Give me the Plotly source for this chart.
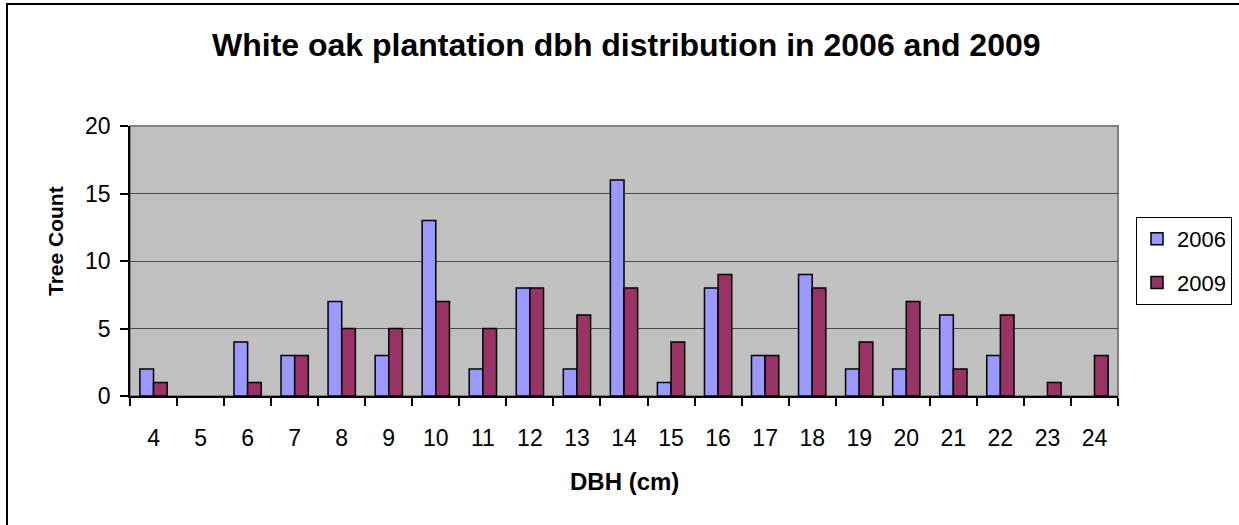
import plotly.graph_objects as go

dbh = ["4", "5", "6", "7", "8", "9", "10", "11", "12", "13", "14", "15", "16",
       "17", "18", "19", "20", "21", "22", "23", "24"]
count_2006 = [2, 0, 4, 3, 7, 3, 13, 2, 8, 2, 16, 1, 8, 3, 9, 2, 2, 6, 3, 0, 0]
count_2009 = [1, 0, 1, 3, 5, 5, 7, 5, 8, 6, 8, 4, 9, 3, 8, 4, 7, 2, 6, 1, 3]

W, H = 1239, 525
L, R, T, B = 130, 1118, 126, 396
pw, ph = R - L, B - T

def px(x):
    return (x - L) / pw

def py(y):
    return (B - y) / ph

FONT = "Liberation Sans, Arial, sans-serif"

def outline(vals):
    return [1.5 if v > 0 else 0 for v in vals]

fig = go.Figure()
fig.add_trace(go.Bar(x=dbh, y=count_2006, name="2006", legendgroup="a",
                     marker=dict(color="#9999FF",
                                 line=dict(color="black", width=outline(count_2006)))))
fig.add_trace(go.Bar(x=dbh, y=count_2009, name="2009", legendgroup="b",
                     marker=dict(color="#993366",
                                 line=dict(color="black", width=outline(count_2009)))))

fig.update_layout(
    width=W, height=H,
    margin=dict(l=L, r=W - R, t=T, b=H - B, pad=0, autoexpand=False),
    paper_bgcolor="white",
    plot_bgcolor="#C0C0C0",
    bargap=0.42, bargroupgap=0,
    font=dict(family=FONT, color="black", size=23),
    showlegend=True,
    legend=dict(x=px(1136), y=py(217), xanchor="left", yanchor="top",
                bordercolor="black", borderwidth=1, bgcolor="white",
                font=dict(size=22, family=FONT), tracegroupgap=12,
                itemwidth=30),
    xaxis=dict(type="category", showgrid=False, showline=True, linecolor="black",
               linewidth=1.5, ticks="outside", tickson="boundaries", ticklen=8,
               tickcolor="black", tickwidth=1.5, tickfont=dict(size=23),
               ticklabelstandoff=21, zeroline=False, automargin=False),
    yaxis=dict(range=[0, 20], tickvals=[0, 5, 10, 15, 20], showgrid=True,
               gridcolor="#4a4a4a", gridwidth=1, showline=True, linecolor="black",
               linewidth=1.5, ticks="outside", ticklen=8, tickcolor="black",
               tickwidth=1.5, tickfont=dict(size=23), ticklabelstandoff=5,
               zeroline=False, automargin=False),
    shapes=[
        dict(type="rect", xref="paper", yref="paper", x0=0, x1=1, y0=0, y1=1,
             line=dict(color="#808080", width=2), layer="below"),
        dict(type="rect", xref="paper", yref="paper", x0=px(7), x1=px(W + 20),
             y0=py(H + 20), y1=py(4), line=dict(color="black", width=2),
             layer="above"),
    ],
    annotations=[
        dict(text="<b>White oak plantation dbh distribution in 2006 and 2009</b>",
             xref="paper", yref="paper", x=px(626), y=py(45), xanchor="center",
             yanchor="middle", showarrow=False, font=dict(size=32, family=FONT)),
        dict(text="<b>Tree Count</b>", xref="paper", yref="paper", x=px(55),
             y=py(241), xanchor="center", yanchor="middle", textangle=-90,
             showarrow=False, font=dict(size=21, family=FONT)),
        dict(text="<b>DBH (cm)</b>", xref="paper", yref="paper", x=px(624),
             y=py(481), xanchor="center", yanchor="middle", showarrow=False,
             font=dict(size=24, family=FONT)),
    ],
)

fig.write_html("out.html")
